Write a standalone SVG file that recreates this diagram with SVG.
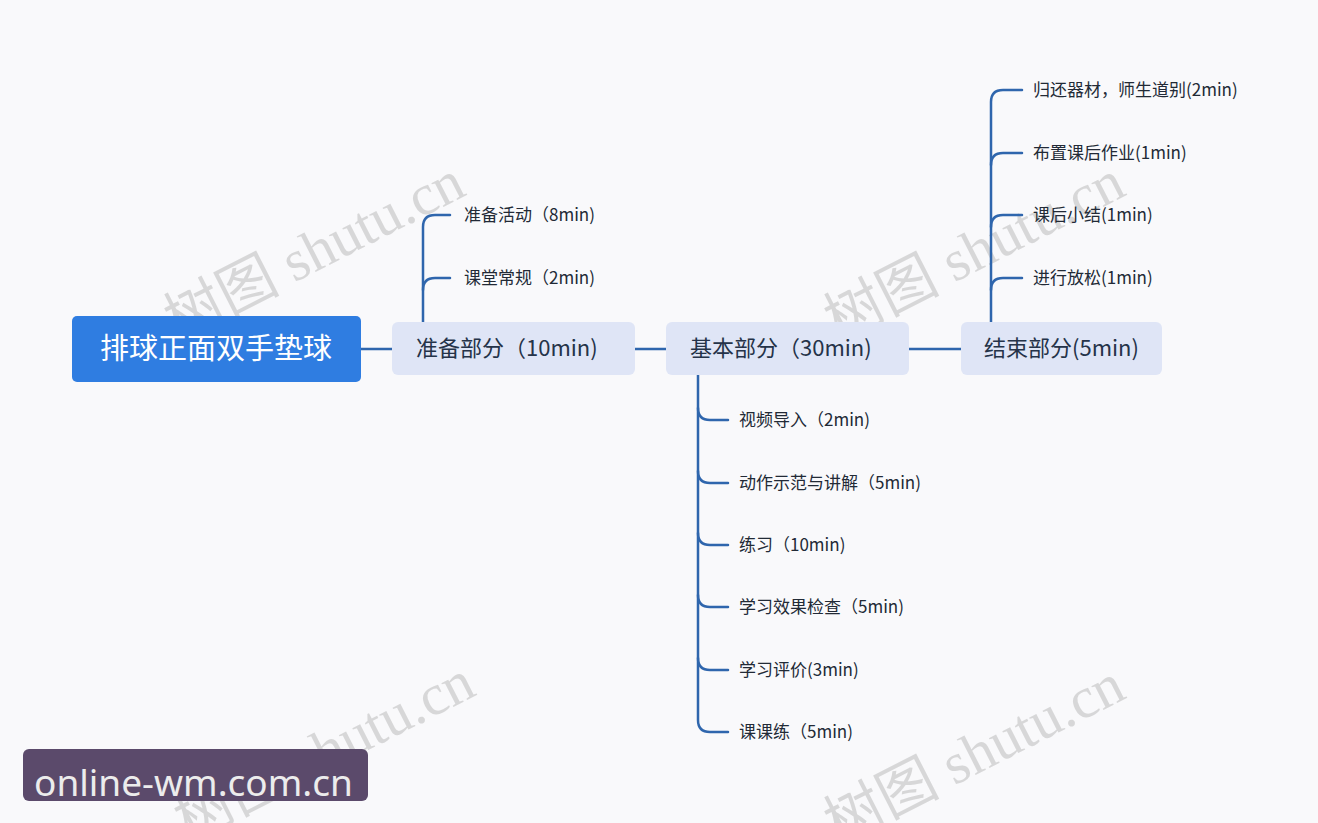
<svg xmlns="http://www.w3.org/2000/svg" width="1318" height="823" viewBox="0 0 1318 823">
<style>
.bg{fill:#f9f9fb}
.root{fill:#2f7de1}
.rootT{fill:#ffffff;font-family:"Noto Sans CJK SC","Noto Sans",sans-serif;font-size:29px}
.mid{fill:#dfe5f6}
.midT{fill:#253349;font-family:"Noto Sans CJK SC","Noto Sans",sans-serif;font-size:22px}
.leafT{fill:#222a36;font-family:"Noto Sans CJK SC","Noto Sans",sans-serif;font-size:17px}
.ln{fill:none;stroke:#2f66ad;stroke-width:2.5;stroke-linecap:round}
.wm{fill:#bdbdbd;opacity:0.55;font-family:"Liberation Serif","Noto Sans CJK SC",serif;font-size:58px}
.wmCJK{font-family:"Noto Sans CJK SC",serif}
</style>
<rect class="bg" x="0" y="0" width="1318" height="823"/>

<g id="watermarks">
<text class="wm" transform="translate(178,342) rotate(-27)"><tspan class="wmCJK">树图</tspan> shutu.cn</text>
<text class="wm" transform="translate(838,342) rotate(-27)"><tspan class="wmCJK">树图</tspan> shutu.cn</text>
<text class="wm" transform="translate(188,842) rotate(-27)"><tspan class="wmCJK">树图</tspan> shutu.cn</text>
<text class="wm" transform="translate(838,845) rotate(-27)"><tspan class="wmCJK">树图</tspan> shutu.cn</text>
</g>

<g id="connectors">
<path class="ln" d="M361,349 H392"/>
<path class="ln" d="M635,349 H666"/>
<path class="ln" d="M909,349 H961"/>
<path class="ln" d="M423,322 V227 Q423,215 435,215 H450"/>
<path class="ln" d="M423,290 Q423,278 435,278 H450"/>
<path class="ln" d="M698,375 V720 Q698,732 710,732 H728"/>
<path class="ln" d="M698,408 Q698,420 710,420 H728"/>
<path class="ln" d="M698,471 Q698,483 710,483 H728"/>
<path class="ln" d="M698,533 Q698,545 710,545 H728"/>
<path class="ln" d="M698,595 Q698,607 710,607 H728"/>
<path class="ln" d="M698,658 Q698,670 710,670 H728"/>
<path class="ln" d="M991,322 V102 Q991,90 1003,90 H1022"/>
<path class="ln" d="M991,165 Q991,153 1003,153 H1022"/>
<path class="ln" d="M991,227 Q991,215 1003,215 H1022"/>
<path class="ln" d="M991,290 Q991,278 1003,278 H1022"/>
</g>

<g id="root">
<rect class="root" x="72" y="316" width="289" height="66" rx="5"/>
<text class="rootT" x="216" y="359" text-anchor="middle">排球正面双手垫球</text>
</g>

<g id="n-zhunbei">
<rect class="mid" x="392" y="322" width="243" height="53" rx="6"/>
<text class="midT" x="416" y="356">准备部分（10min)</text>
</g>
<g id="n-jiben">
<rect class="mid" x="666" y="322" width="243" height="53" rx="6"/>
<text class="midT" x="690" y="356">基本部分（30min)</text>
</g>
<g id="n-jieshu">
<rect class="mid" x="961" y="322" width="201" height="53" rx="6"/>
<text class="midT" x="984" y="356">结束部分(5min)</text>
</g>

<g id="l-zb1"><text class="leafT" x="464" y="221">准备活动（8min)</text></g>
<g id="l-zb2"><text class="leafT" x="464" y="284">课堂常规（2min)</text></g>

<g id="l-jb1"><text class="leafT" x="739" y="426">视频导入（2min)</text></g>
<g id="l-jb2"><text class="leafT" x="739" y="489">动作示范与讲解（5min)</text></g>
<g id="l-jb3"><text class="leafT" x="739" y="551">练习（10min)</text></g>
<g id="l-jb4"><text class="leafT" x="739" y="613">学习效果检查（5min)</text></g>
<g id="l-jb5"><text class="leafT" x="739" y="676">学习评价(3min)</text></g>
<g id="l-jb6"><text class="leafT" x="739" y="738">课课练（5min)</text></g>

<g id="l-js1"><text class="leafT" x="1033" y="96">归还器材，师生道别(2min)</text></g>
<g id="l-js2"><text class="leafT" x="1033" y="159">布置课后作业(1min)</text></g>
<g id="l-js3"><text class="leafT" x="1033" y="221">课后小结(1min)</text></g>
<g id="l-js4"><text class="leafT" x="1033" y="284">进行放松(1min)</text></g>

<g id="badge">
<rect x="23" y="749" width="345" height="52" rx="6" fill="#5b4a6b"/>
<text x="34" y="796" fill="#ececec" font-family="'Noto Sans','Open Sans',sans-serif" font-size="37">online-wm.com.cn</text>
</g>
</svg>
